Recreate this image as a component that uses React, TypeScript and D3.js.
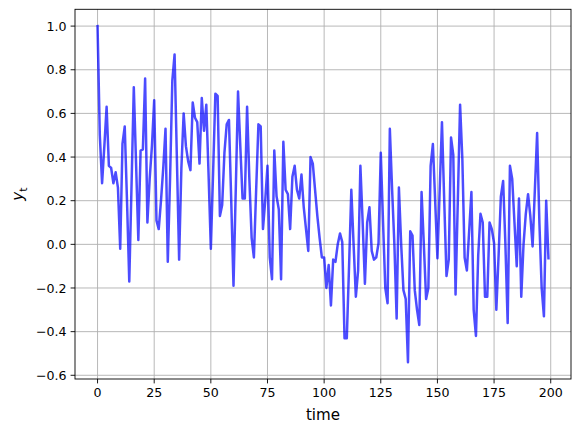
import React from "react";
import * as d3 from "d3";

const values: number[] = [
  1.0, 0.5, 0.28, 0.45, 0.63, 0.36, 0.35, 0.28, 0.33, 0.26,
  -0.02, 0.46, 0.54, 0.2, -0.17, 0.27, 0.72, 0.37, 0.02, 0.43,
  0.435, 0.76, 0.1, 0.3, 0.45, 0.66, 0.11, 0.07, 0.2, 0.35,
  0.53, -0.08, 0.3, 0.75, 0.87, 0.4, -0.07, 0.35, 0.6, 0.45,
  0.38, 0.34, 0.65, 0.58, 0.56, 0.37, 0.67, 0.52, 0.64, 0.32,
  -0.02, 0.33, 0.69, 0.68, 0.13, 0.18, 0.42, 0.55, 0.57, 0.2,
  -0.19, 0.25, 0.7, 0.45, 0.21, 0.21, 0.63, 0.3, 0.03, -0.06,
  0.25, 0.55, 0.54, 0.07, 0.2, 0.36, -0.06, -0.16, 0.43, 0.22,
  0.16, -0.16, 0.47, 0.25, 0.23, 0.07, 0.31, 0.36, 0.25, 0.21,
  0.32, 0.17, 0.07, -0.03, 0.4, 0.37, 0.25, 0.13, 0.03, -0.06,
  -0.06, -0.2, -0.095, -0.28, -0.07, -0.08, 0.0, 0.05, 0.01, -0.43,
  -0.43, -0.1, 0.25, 0.0, -0.24, -0.12, 0.36, 0.1, -0.18, 0.1,
  0.17, -0.03, -0.07, -0.06, 0.005, 0.42, 0.1, -0.2, -0.27, 0.53,
  0.25, 0.0, -0.34, 0.26, 0.0, -0.21, -0.25, -0.54, 0.06, 0.04,
  -0.21, -0.3, -0.37, 0.24, 0.0, -0.25, -0.2, 0.36, 0.46, 0.2,
  -0.064, 0.25, 0.56, 0.2, -0.145, -0.07, 0.49, 0.41, -0.23, 0.2,
  0.64, 0.39, -0.06, -0.12, 0.06, 0.24, -0.3, -0.42, -0.05, 0.14,
  0.1, -0.24, -0.24, 0.1, 0.07, 0.005, -0.3, -0.05, 0.22, 0.29,
  0.0, -0.36, 0.36, 0.3, 0.1, -0.1, 0.21, -0.24, 0.0, 0.14,
  0.23, 0.13, -0.01, 0.25, 0.51, 0.1, -0.2, -0.33, 0.2, -0.064,
];

const xTicks: number[] = [0, 25, 50, 75, 100, 125, 150, 175, 200];
const yTicks: number[] = [-0.6, -0.4, -0.2, 0.0, 0.2, 0.4, 0.6, 0.8, 1.0];
const xLabel = "time";

const W = 581;
const H = 433;
const L = 75;
const R = 571;
const T = 9.3;
const B = 379;
const FONT = "DejaVu Sans, sans-serif";

export default function App() {
  const n = values.length;
  const xPad = (n - 1) * 0.05;
  const x = d3.scaleLinear().domain([0 - xPad, n - 1 + xPad]).range([L, R]);
  const [mn, mx] = d3.extent(values) as [number, number];
  const yPad = (mx - mn) * 0.05;
  const y = d3.scaleLinear().domain([mn - yPad, mx + yPad]).range([B, T]);

  const line = d3
    .line<number>()
    .x((_, i) => x(i))
    .y((d) => y(d));

  const fmtY = (v: number) => {
    const s = v.toFixed(1);
    return v < 0 ? "\u2212" + s.slice(1) : s;
  };

  return (
    <svg width={W} height={H} style={{ position: "absolute", left: 0, top: 0 }} fontFamily={FONT}>
      <rect x={0} y={0} width={W} height={H} fill="#fff" />
      {xTicks.map((t) => (
        <line key={"gx" + t} x1={x(t)} x2={x(t)} y1={T} y2={B} stroke="#b0b0b0" strokeWidth={0.9} />
      ))}
      {yTicks.map((t) => (
        <line key={"gy" + t} x1={L} x2={R} y1={y(t)} y2={y(t)} stroke="#b0b0b0" strokeWidth={0.9} />
      ))}
      <clipPath id="clip">
        <rect x={L} y={T} width={R - L} height={B - T} />
      </clipPath>
      <path
        d={line(values) || ""}
        fill="none"
        stroke="#0000ff"
        strokeOpacity={0.7}
        strokeWidth={2.5}
        strokeLinejoin="round"
        strokeLinecap="square"
        clipPath="url(#clip)"
      />
      <rect x={L} y={T} width={R - L} height={B - T} fill="none" stroke="#000" strokeWidth={0.9} />
      {xTicks.map((t) => (
        <g key={"tx" + t}>
          <line x1={x(t)} x2={x(t)} y1={B} y2={B + 4.4} stroke="#000" strokeWidth={0.9} />
          <text x={x(t)} y={B + 17.5} textAnchor="middle" fontSize={12.6} fill="#000">
            {t}
          </text>
        </g>
      ))}
      {yTicks.map((t) => (
        <g key={"ty" + t}>
          <line x1={L - 4.4} x2={L} y1={y(t)} y2={y(t)} stroke="#000" strokeWidth={0.9} />
          <text x={L - 8.5} y={y(t)} dy="0.36em" textAnchor="end" fontSize={12.6} fill="#000">
            {fmtY(t)}
          </text>
        </g>
      ))}
      <text x={(L + R) / 2} y={420} textAnchor="middle" fontSize={15.1} fill="#000">
        {xLabel}
      </text>
      <g transform={`translate(23, ${(T + B) / 2}) rotate(-90)`}>
        <text textAnchor="middle" fontSize={15.1} fill="#000">
          <tspan fontStyle="italic">y</tspan>
          <tspan fontSize={10.6} dy={3.5}>t</tspan>
        </text>
      </g>
    </svg>
  );
}
